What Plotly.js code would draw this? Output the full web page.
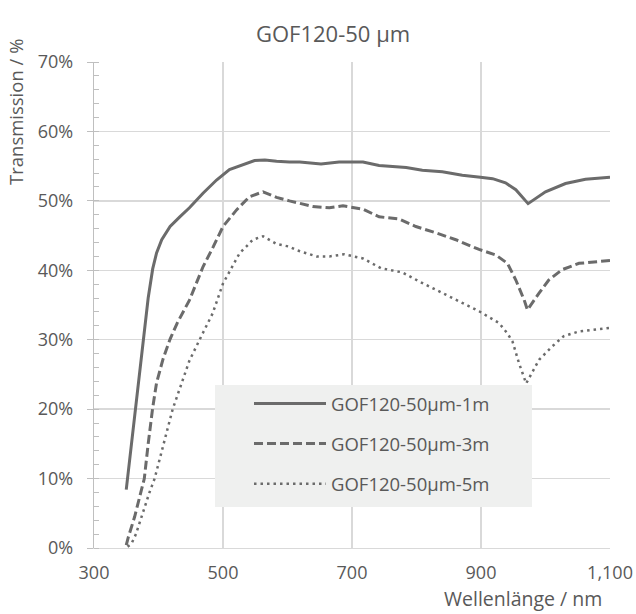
<!DOCTYPE html>
<html>
<head>
<meta charset="utf-8">
<script src="https://cdn.plot.ly/plotly-3.0.1.min.js"></script>
<style>html,body{margin:0;padding:0;background:#fff;}#chart{width:636px;height:614px;}</style>
</head>
<body>
<div id="chart"></div>
<script>
// Wavelength (nm) / transmission (%)
const wl1m = [350,360,368,376,384,391,397,405,418,433,448,469,490,510,531,549,565,583,603,619,652,680,717,742,784,809,840,871,899,918,938,954,973,1000,1031,1062,1100];
const tr1m = [8.4,16.5,23.5,30.4,36.0,40.2,42.5,44.4,46.3,47.7,49.0,51.1,53.0,54.5,55.2,55.8,55.9,55.7,55.6,55.6,55.3,55.6,55.6,55.1,54.8,54.4,54.2,53.7,53.4,53.2,52.6,51.6,49.6,51.3,52.5,53.1,53.4];

const wl3m = [350,353,363,370,378,384,391,397,407,418,429,448,469,485,500,521,541,562,583,603,639,665,686,717,742,773,799,830,861,897,923,941,954,967,972,990,1005,1026,1052,1100];
const tr3m = [0.4,1.5,4.5,7,10,15,20.2,23.8,27.2,30.1,32.4,35.7,40.5,43.4,46.3,48.7,50.6,51.3,50.5,50.0,49.2,49.0,49.3,48.8,47.7,47.4,46.3,45.4,44.4,43.0,42.2,41.0,38.6,35.7,34.3,36.7,38.6,40.1,41.0,41.4];

const wl5m = [352,358,365,375,386,394,405,422,435,448,469,484,500,513,526,536,546,562,583,603,614,645,665,688,717,745,778,804,835,866,897,928,941,949,959,970,990,1010,1028,1052,1100];
const tr5m = [0.2,0.6,2,5,8,10,14,20,23.5,27,31,33.8,38.1,40.3,42.5,43.4,44.4,44.9,43.8,43.4,42.9,42.0,42.0,42.3,41.7,40.3,39.7,38.4,37.0,35.5,34.1,32.4,30.9,29.7,26.6,23.7,27.1,29.0,30.5,31.2,31.7];

const seriesNames = ['GOF120-50\u00b5m-1m','GOF120-50\u00b5m-3m','GOF120-50\u00b5m-5m'];
const xTicks = [300,500,700,900,1100];
const xTickText = ['300','500','700','900','1,100'];
const yTicks = [0,10,20,30,40,50,60,70];
const yTickText = ['0%','10%','20%','30%','40%','50%','60%','70%'];

const lineColor = '#6b6b6b';
const textColor = '#595959';
const font = 'Open Sans, Liberation Sans, sans-serif';

const traces = [
  {x: wl1m, y: tr1m, name: seriesNames[0], legendgroup:'a', mode:'lines', line:{color:lineColor, width:3}},
  {x: wl3m, y: tr3m, name: seriesNames[1], legendgroup:'b', mode:'lines', line:{color:lineColor, width:3, dash:'9px,4px'}},
  {x: wl5m, y: tr5m, name: seriesNames[2], legendgroup:'c', mode:'lines', line:{color:lineColor, width:2.5, dash:'2.5px,4px'}}
];

const layout = {
  width: 636, height: 614,
  margin: {l:94, r:26, t:62, b:66},
  paper_bgcolor:'#ffffff', plot_bgcolor:'#ffffff',
  font: {family: font, color: textColor, size: 18},
  showlegend: true,
  legend: {x: (249-94)/516, y: (548-385)/486, xanchor:'left', yanchor:'top', bgcolor:'rgba(0,0,0,0)',
           font:{size:18.5, color:textColor}, tracegroupgap: 13, itemwidth: 72},
  xaxis: {range:[300,1100], tickvals:xTicks, ticktext:xTickText, showgrid:true, gridcolor:'#d9d9d9', gridwidth:1.3,
          zeroline:false, showline:true, linecolor:'#d9d9d9', linewidth:1.3, ticks:'', ticklabelstandoff:8,
          tickfont:{size:18, color:textColor}},
  yaxis: {range:[0,70], tickvals:yTicks, ticktext:yTickText, showgrid:true, gridcolor:'#d9d9d9', gridwidth:1.3,
          zeroline:false, showline:true, linecolor:'#bfbfbf', linewidth:1.3, ticks:'outside', ticklen:6, tickcolor:'#bfbfbf',
          ticklabelstandoff:10,
          minor:{dtick:2, ticks:'inside', ticklen:5, tickcolor:'#bfbfbf', showgrid:false},
          tickfont:{size:18, color:textColor}},
  shapes: [{type:'rect', xref:'paper', yref:'paper', x0:(215-94)/516, x1:(532-94)/516, y0:(548-507)/486, y1:(548-385)/486,
            fillcolor:'#eff0ef', line:{width:0}, layer:'above'}],
  annotations: [
    {text:'GOF120-50 \u00b5m', xref:'paper', yref:'paper', x:(333-94)/516, y:(548-33)/486, showarrow:false,
     xanchor:'center', yanchor:'middle', font:{size:22, color:textColor}},
    {text:'Transmission / %', xref:'paper', yref:'paper', x:(16-94)/516, y:(548-112)/486, showarrow:false,
     textangle:-90, xanchor:'center', yanchor:'middle', font:{size:18.5, color:textColor}},
    {text:'Wellenl\u00e4nge / nm', xref:'paper', yref:'paper', x:(604-94)/516, y:(548-598)/486, showarrow:false,
     xanchor:'right', yanchor:'middle', font:{size:19.5, color:textColor}}
  ]
};

Plotly.newPlot('chart', traces, layout, {displayModeBar:false, staticPlot:true});
</script>
</body>
</html>
